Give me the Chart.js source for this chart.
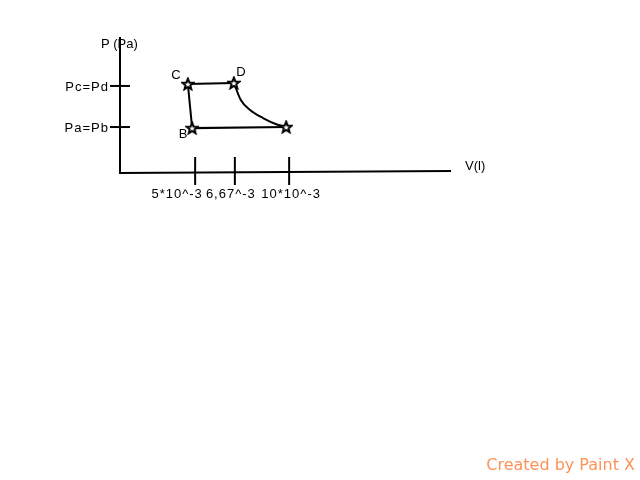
<!DOCTYPE html>
<html>
<head>
<meta charset="utf-8">
<script src="https://cdn.jsdelivr.net/npm/chart.js@4"></script>
<style>
  body { margin: 0; background: #fff; }
  #pv { display: block; }
</style>
</head>
<body>
<canvas id="pv" width="640" height="480"></canvas>
<script>
// drawing units (sketch is not to scale): x and y both run 0..100 along the axes
const cornerNames = ['B', 'C', 'D', 'A'];
const cornerV = [21.8, 20.5, 34.4, 50.2];
const cornerP = [33.0, 65.4, 66.2, 33.8];
const curveV = [34.4, 36.5, 39.3, 43.2, 47.4, 50.2];
const curveP = [66.2, 53.7, 46.3, 40.4, 35.7, 33.8];
const vTickPos = [22.7, 34.7, 51.1];
const vTickLabels = ['5*10^-3', '6,67^-3', '10*10^-3'];
const pTickPos = [33.8, 64.0];
const pTickLabels = ['Pa=Pb', 'Pc=Pd'];
const labelShown = ['B', 'C', 'D'];

const FONT = '13px "Liberation Sans", Arial, sans-serif';

// open five-pointed star for the corner markers
function makeStar() {
  const c = document.createElement('canvas');
  c.width = 14; c.height = 14;
  const g = c.getContext('2d');
  g.beginPath();
  for (let i = 0; i < 10; i++) {
    const r = i % 2 ? 2.5 : 5.8;
    const a = -Math.PI / 2 + i * Math.PI / 5;
    const px = 7 + r * Math.cos(a), py = 7.5 + r * Math.sin(a);
    i ? g.lineTo(px, py) : g.moveTo(px, py);
  }
  g.closePath();
  g.fillStyle = '#fff';
  g.fill();
  g.lineWidth = 2;
  g.lineJoin = 'miter';
  g.strokeStyle = '#000';
  g.stroke();
  return c;
}
const star = makeStar();

const pt = (v, p) => ({ x: v, y: p });
const corners = cornerV.map((v, i) => pt(v, cornerP[i]));

const axesPlugin = {
  id: 'sketchAxes',
  beforeDatasetsDraw(chart) {
    const { ctx, scales: { x, y } } = chart;
    const x0 = x.getPixelForValue(0), y0 = y.getPixelForValue(0);
    const vNudge = [-18, -4, 2];
    ctx.save();
    ctx.strokeStyle = '#000';
    ctx.lineWidth = 2;
    ctx.beginPath();
    ctx.moveTo(x0, y.getPixelForValue(100));
    ctx.lineTo(x0, y0);
    ctx.lineTo(x.getPixelForValue(100), y0 - 2);
    ctx.stroke();
    ctx.fillStyle = '#000';
    ctx.font = FONT;
    ctx.textBaseline = 'middle';
    ctx.letterSpacing = '1px';
    pTickPos.forEach((p, i) => {
      const py = y.getPixelForValue(p);
      ctx.beginPath();
      ctx.moveTo(x0 - 10, py);
      ctx.lineTo(x0 + 10, py);
      ctx.stroke();
      ctx.textAlign = 'right';
      ctx.fillText(pTickLabels[i], x0 - 11, py + 1);
    });
    vTickPos.forEach((v, i) => {
      const px = x.getPixelForValue(v);
      ctx.beginPath();
      ctx.moveTo(px, y0 - 16);
      ctx.lineTo(px, y0 + 12);
      ctx.stroke();
      ctx.textAlign = 'center';
      ctx.fillText(vTickLabels[i], px + vNudge[i], y0 + 21);
    });
    ctx.letterSpacing = '0px';
    ctx.textAlign = 'left';
    ctx.fillText('P (Pa)', x0 - 19, y.getPixelForValue(100) + 7);
    ctx.fillText('V(l)', x.getPixelForValue(100) + 14, y0 - 7);
    ctx.restore();
  },
  afterDatasetsDraw(chart) {
    const { ctx, scales: { x, y } } = chart;
    const offs = { B: [-9, 6], C: [-12, -9], D: [7, -11] };
    ctx.save();
    ctx.fillStyle = '#000';
    ctx.font = FONT;
    ctx.textAlign = 'center';
    ctx.textBaseline = 'middle';
    labelShown.forEach(n => {
      const i = cornerNames.indexOf(n);
      ctx.fillText(n, x.getPixelForValue(cornerV[i]) + offs[n][0], y.getPixelForValue(cornerP[i]) + offs[n][1]);
    });
    ctx.font = '16px "DejaVu Sans", Verdana, sans-serif';
    ctx.fillStyle = '#fd9259';
    ctx.textAlign = 'right';
    ctx.fillText('Created by Paint X', 635, 466);
    ctx.restore();
  }
};

new Chart(document.getElementById('pv'), {
  type: 'scatter',
  data: {
    datasets: [
      {
        data: [corners[3], corners[0], corners[1], corners[2]],
        showLine: true,
        borderColor: '#000',
        borderWidth: 2,
        pointStyle: star,
        pointRadius: 6,
        order: 0
      },
      {
        data: curveV.map((v, i) => pt(v, curveP[i])),
        showLine: true,
        borderColor: '#000',
        borderWidth: 2,
        cubicInterpolationMode: 'monotone',
        pointRadius: 0,
        order: 1
      }
    ]
  },
  options: {
    responsive: false,
    animation: false,
    layout: { padding: { left: 120, top: 37, right: 189, bottom: 307 } },
    plugins: { legend: { display: false }, tooltip: { enabled: false } },
    scales: {
      x: { display: false, min: 0, max: 100 },
      y: { display: false, min: 0, max: 100 }
    }
  },
  plugins: [axesPlugin]
});
</script>
</body>
</html>
